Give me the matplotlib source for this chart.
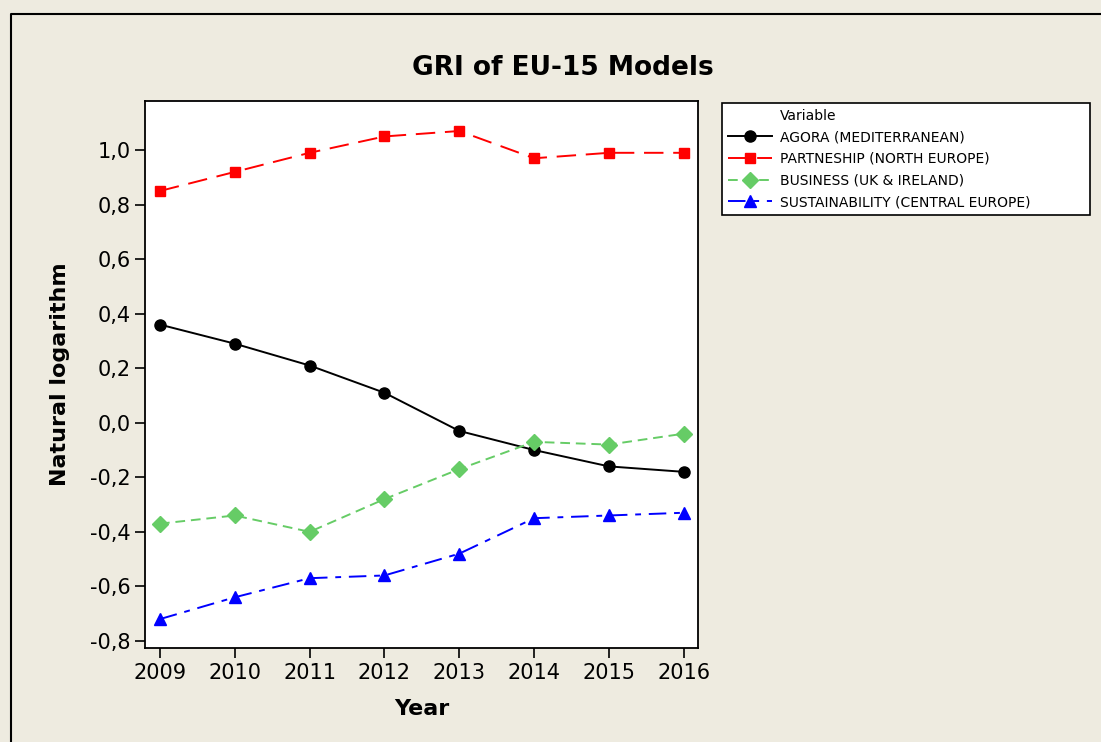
import numpy as np
import matplotlib.pyplot as plt
from matplotlib.lines import Line2D

################################################################################

years = [2009, 2010, 2011, 2012, 2013, 2014, 2015, 2016]
agora = [0.36, 0.29, 0.21, 0.11, -0.03, -0.10, -0.16, -0.18]
partnership = [0.85, 0.92, 0.99, 1.05, 1.07, 0.97, 0.99, 0.99]
business = [-0.37, -0.34, -0.40, -0.28, -0.17, -0.07, -0.08, -0.04]
sustainability = [-0.72, -0.64, -0.57, -0.56, -0.48, -0.35, -0.34, -0.33]
names = ['AGORA (MEDITERRANEAN)', 'PARTNESHIP (NORTH EUROPE)',
         'BUSINESS (UK & IRELAND)', 'SUSTAINABILITY (CENTRAL EUROPE)']
yticks = [-0.8, -0.6, -0.4, -0.2, 0.0, 0.2, 0.4, 0.6, 0.8, 1.0]

plt.rcParams['font.family'] = ['DejaVu Sans']

fig = plt.figure(figsize=(11.01, 7.42), dpi=100, facecolor='#eeebe0')
ax = fig.add_axes([145/1101, 1-648/742, (698-145)/1101, (648-101)/742])
ax.set_facecolor('white')

# cadre de la figure (haut et gauche)
fig.add_artist(Line2D([11/1101, 11/1101, 1.0], [0.0, 1-14/742, 1-14/742],
                      color='black', lw=1.5, transform=fig.transFigure))

styles = [
    dict(color='black', ls='-', marker='o', ms=8, mfc='black', mec='black'),
    dict(color='red', ls=(0, (10, 5)), marker='s', ms=7, mfc='red', mec='red'),
    dict(color='#66cc66', ls=(0, (5, 3)), marker='D', ms=8, mfc='#66cc66', mec='#66cc66'),
    dict(color='blue', ls=(0, (9, 4, 3, 4)), marker='^', ms=9, mfc='blue', mec='blue'),
]
series = [agora, partnership, business, sustainability]

handles = [Line2D([], [], color='none', label='Variable')]
for s, st, nom in zip(series, styles, names):
    h, = ax.plot(years, s, lw=1.4, label=nom, **st)
    handles.append(h)

ax.set_xlim(2008.8, 2016.19)
ax.set_ylim(-0.826, 1.18)
ax.set_xticks(years)
ax.set_yticks(yticks)
ax.set_yticklabels([('%.1f' % v).replace('.', ',').replace('-0,0', '0,0') for v in yticks])
ax.tick_params(direction='out', length=7, width=1.2, labelsize=15, colors='black')
for sp in ax.spines.values():
    sp.set_linewidth(1.3)

ax.set_xlabel('Year', fontsize=16, fontweight='bold', labelpad=12)
ax.set_ylabel('Natural logarithm', fontsize=16, fontweight='bold', labelpad=14)
fig.text(563/1101, 1-68/742, 'GRI of EU-15 Models', fontsize=19, fontweight='bold',
         ha='center', va='center')

leg = fig.legend(handles=handles, loc='upper left', mode='expand',
                 bbox_to_anchor=(722/1101, 1-215/742, 368/1101, 112/742), fontsize=10,
                 frameon=True, fancybox=False, edgecolor='black',
                 framealpha=1, handlelength=3.2, handletextpad=0.6,
                 borderpad=0.4, labelspacing=0.55, borderaxespad=0)
leg.get_frame().set_linewidth(1.2)

fig.savefig('out.png', dpi=100, facecolor=fig.get_facecolor())
